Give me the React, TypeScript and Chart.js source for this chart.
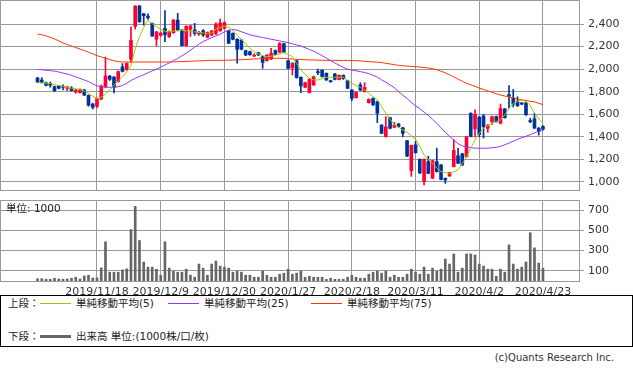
import React, { useEffect, useRef } from 'react';
import { Chart, registerables } from 'chart.js';

Chart.register(...registerables);

// ---- data (trading day index 0 = 2019/10/28 ... 119 = 2020/4/23) ----
const opens = [
  1922, 1904, 1880, 1874, 1845, 1850, 1847, 1830, 1833, 1797,
  1792, 1815, 1768, 1691, 1670, 1735, 1845, 1938, 1930, 1890,
  2020, 1995, 2087, 2380, 2560, 2490, 2470, 2406, 2265, 2300,
  2362, 2288, 2323, 2435, 2347, 2208, 2353, 2347, 2310, 2341,
  2282, 2302, 2317, 2340, 2362, 2341, 2317, 2264, 2258, 2164,
  2155, 2116, 2146, 2110, 2075, 2090, 2165, 2150, 2225, 2075,
  2010, 2075, 1928, 1839, 1792, 1860, 1978, 1990, 1963, 1898,
  1957, 1908, 1945, 1898, 1815, 1747, 1860, 1801, 1703, 1741,
  1712, 1505, 1402, 1570, 1485, 1514, 1480, 1366, 1100, 1330,
  1201, 1003, 1180, 1033, 1180, 1151, 1033, 1053, 1136, 1232,
  1250, 1225, 1609, 1470, 1575, 1585, 1475, 1535, 1580, 1520,
  1648, 1775, 1745, 1712, 1700, 1700, 1545, 1560, 1478, 1492,
];
const highs = [
  1928, 1925, 1886, 1886, 1850, 1856, 1860, 1850, 1845, 1821,
  1825, 1822, 1772, 1697, 1745, 1860, 2107, 1945, 1935, 1985,
  2050, 2056, 2376, 2562, 2565, 2495, 2490, 2410, 2335, 2330,
  2518, 2340, 2440, 2495, 2350, 2385, 2390, 2406, 2335, 2350,
  2330, 2345, 2410, 2444, 2420, 2345, 2322, 2270, 2262, 2168,
  2160, 2135, 2150, 2115, 2130, 2185, 2170, 2235, 2232, 2080,
  2058, 2080, 1932, 1885, 1915, 1938, 2000, 1995, 1968, 1902,
  1962, 1950, 1950, 1902, 1818, 1800, 1880, 1880, 1738, 1745,
  1716, 1508, 1579, 1575, 1530, 1520, 1485, 1370, 1328, 1358,
  1205, 1205, 1228, 1192, 1300, 1155, 1036, 1088, 1375, 1299,
  1255, 1405, 1614, 1640, 1580, 1600, 1510, 1585, 1585, 1690,
  1652, 1855, 1820, 1755, 1705, 1705, 1565, 1610, 1482, 1500,
];
const lows = [
  1882, 1878, 1852, 1840, 1800, 1826, 1815, 1810, 1805, 1786,
  1788, 1765, 1672, 1647, 1658, 1728, 1835, 1900, 1790, 1885,
  1975, 1990, 2060, 2356, 2415, 2390, 2440, 2290, 2208, 2290,
  2243, 2280, 2318, 2340, 2205, 2205, 2290, 2300, 2300, 2290,
  2278, 2298, 2305, 2335, 2355, 2225, 2258, 2052, 2170, 2120,
  2122, 2110, 2120, 2007, 2070, 2085, 2125, 2145, 2145, 2002,
  1948, 1920, 1792, 1835, 1788, 1855, 1950, 1930, 1900, 1884,
  1905, 1904, 1910, 1826, 1720, 1742, 1810, 1796, 1698, 1678,
  1526, 1428, 1398, 1470, 1480, 1485, 1400, 1225, 1050, 1255,
  1075, 974, 1072, 1030, 1088, 1018, 988, 1050, 1132, 1162,
  1146, 1220, 1400, 1400, 1400, 1390, 1440, 1510, 1530, 1515,
  1565, 1655, 1665, 1670, 1685, 1590, 1525, 1473, 1415, 1460,
];
const closes = [
  1886, 1883, 1857, 1857, 1809, 1830, 1840, 1842, 1810, 1815,
  1821, 1771, 1680, 1662, 1740, 1850, 1940, 1910, 1840, 1978,
  1980, 2050, 2255, 2560, 2420, 2474, 2455, 2294, 2330, 2320,
  2306, 2332, 2435, 2347, 2208, 2380, 2382, 2317, 2325, 2303,
  2326, 2338, 2400, 2408, 2412, 2229, 2264, 2176, 2176, 2125,
  2128, 2121, 2125, 2060, 2125, 2140, 2130, 2229, 2150, 2007,
  2052, 1925, 1851, 1880, 1910, 1933, 1969, 1935, 1904, 1888,
  1910, 1945, 1915, 1830, 1741, 1795, 1815, 1839, 1733, 1683,
  1609, 1431, 1488, 1476, 1505, 1490, 1431, 1230, 1325, 1260,
  1080, 1201, 1077, 1189, 1092, 1022, 1018, 1083, 1280, 1166,
  1151, 1400, 1405, 1600, 1420, 1490, 1500, 1579, 1535, 1650,
  1570, 1760, 1690, 1675, 1690, 1595, 1535, 1478, 1448, 1468,
];
const volumes = [
  23, 23, 17, 17, 27, 20, 17, 20, 27, 37,
  20, 50, 57, 30, 30, 130, 387, 87, 87, 87,
  110, 120, 507, 737, 400, 187, 137, 137, 117, 57,
  387, 127, 97, 87, 87, 117, 57, 37, 167, 127,
  57, 167, 197, 147, 137, 127, 87, 97, 87, 57,
  57, 37, 37, 97, 57, 37, 37, 67, 77, 117,
  67, 77, 100, 37, 47, 37, 37, 37, 17, 27,
  17, 17, 17, 37, 57, 37, 27, 27, 67, 87,
  97, 77, 97, 37, 57, 37, 37, 67, 117, 87,
  67, 137, 67, 127, 97, 117, 217, 167, 267, 87,
  127, 267, 267, 257, 167, 147, 117, 117, 47, 117,
  87, 357, 167, 117, 137, 187, 477, 327, 177, 127,
];
const ma5 = [
  1880, 1878, 1876, 1872, 1862, 1855, 1848, 1840, 1832, 1826,
  1820, 1805, 1785, 1760, 1738, 1750, 1780, 1815, 1860, 1895,
  1930, 1975, 2030, 2180, 2290, 2370, 2432, 2405, 2375, 2355,
  2335, 2330, 2338, 2340, 2345, 2340, 2335, 2330, 2325, 2320,
  2317, 2320, 2355, 2370, 2382, 2370, 2341, 2300, 2264, 2225,
  2184, 2155, 2134, 2120, 2111, 2115, 2125, 2135, 2146, 2130,
  2111, 2050, 1993, 1955, 1919, 1905, 1904, 1915, 1928, 1928,
  1928, 1928, 1928, 1900, 1874, 1855, 1839, 1815, 1786, 1755,
  1727, 1670, 1609, 1555, 1505, 1485, 1461, 1440, 1408, 1380,
  1313, 1240, 1200, 1166, 1125, 1092, 1083, 1077, 1090, 1107,
  1160, 1225, 1300, 1372, 1430, 1476, 1500, 1520, 1535, 1550,
  1594, 1650, 1697, 1712, 1727, 1712, 1680, 1609, 1560, 1520,
];
const ma25 = [
  1998, 1995, 1990, 1987, 1982, 1975, 1965, 1957, 1945, 1932,
  1918, 1904, 1890, 1870, 1852, 1845, 1840, 1839, 1839, 1845,
  1855, 1875, 1900, 1918, 1935, 1950, 1968, 1985, 2000, 2018,
  2037, 2055, 2075, 2095, 2118, 2142, 2168, 2195, 2222, 2245,
  2262, 2280, 2295, 2310, 2330, 2345, 2352, 2345, 2332, 2318,
  2305, 2295, 2288, 2280, 2273, 2265, 2258, 2250, 2243, 2235,
  2225, 2215, 2205, 2190, 2175, 2160, 2140, 2120, 2098, 2076,
  2055, 2035, 2015, 2000, 1992, 1985, 1978, 1970, 1960, 1945,
  1930, 1905, 1885, 1860, 1835, 1800, 1770, 1740, 1705, 1675,
  1650, 1620, 1590, 1555, 1520, 1480, 1440, 1405, 1370, 1340,
  1320, 1310, 1305, 1300, 1299, 1299, 1300, 1303, 1308, 1315,
  1330, 1345, 1362, 1378, 1392, 1405, 1420, 1435, 1450, 1462,
];
const ma75 = [
  2311, 2305, 2295, 2282, 2268, 2250, 2232, 2218, 2205, 2192,
  2178, 2165, 2150, 2135, 2120, 2108, 2097, 2085, 2074, 2067,
  2064, 2063, 2063, 2063, 2063, 2063, 2063, 2063, 2063, 2063,
  2063, 2064, 2065, 2066, 2067, 2068, 2070, 2072, 2074, 2075,
  2077, 2078, 2078, 2078, 2079, 2080, 2081, 2082, 2084, 2086,
  2088, 2090, 2092, 2094, 2095, 2096, 2096, 2096, 2095, 2093,
  2090, 2087, 2085, 2083, 2082, 2081, 2080, 2079, 2078, 2078,
  2078, 2077, 2077, 2077, 2076, 2075, 2073, 2070, 2067, 2064,
  2062, 2058, 2052, 2046, 2040, 2034, 2030, 2027, 2024, 2022,
  2018, 2015, 2010, 2005, 1995, 1982, 1968, 1950, 1932, 1912,
  1893, 1874, 1862, 1848, 1832, 1820, 1808, 1795, 1782, 1771,
  1762, 1754, 1745, 1735, 1728, 1722, 1715, 1710, 1698, 1685,
];
const gridIdx = [14, 29, 44, 59, 74, 89, 104, 119];
const gridLabels = [
  '2019/11/18', '2019/12/9', '2019/12/30', '2020/1/27',
  '2020/2/18', '2020/3/11', '2020/4/2', '2020/4/23',
];
const priceTicks = [1000, 1200, 1400, 1600, 1800, 2000, 2200, 2400];
const volumeTicks = [100, 200, 300, 400, 500, 600, 700];

const FONT = '"DejaVu Sans", "Noto Sans CJK JP", sans-serif';
const GRID = '#999999';
const RED = '#ff0033';
const BLUE = '#003399';
const X_MIN = -8.6;
const X_MAX = 127.48;

const framePlugin = {
  id: 'frame',
  beforeDatasetsDraw(chart: any) {
    const { ctx, chartArea } = chart;
    const l = Math.round(chartArea.left);
    const t = Math.round(chartArea.top);
    const r = Math.round(chartArea.right);
    const b = Math.round(chartArea.bottom);
    ctx.save();
    ctx.strokeStyle = GRID;
    ctx.lineWidth = 1;
    ctx.strokeRect(l - 0.5, t - 0.5, r - l + 1, b - t + 1);
    ctx.restore();
  },
};

const noPad = (s: any) => {
  s.paddingTop = 0;
  s.paddingBottom = 0;
  s.paddingLeft = 0;
  s.paddingRight = 0;
};

export default function App() {
  const priceRef = useRef<HTMLCanvasElement>(null);
  const volRef = useRef<HTMLCanvasElement>(null);

  useEffect(() => {
    document.body.style.margin = '0';
    Chart.defaults.font.family = FONT;
    const idx = opens.map((_, i) => i);
    const candleColors = idx.map((i) => (closes[i] >= opens[i] ? RED : BLUE));
    const line = (arr: number[], color: string) => ({
      type: 'line' as const,
      data: idx.map((i) => ({ x: i, y: arr[i] })),
      borderColor: color,
      borderWidth: 1,
      pointRadius: 0,
      tension: 0,
      fill: false,
      order: 0,
    });

    const price = new Chart(priceRef.current!, {
      type: 'bar',
      data: {
        datasets: [
          line(ma5, '#99cc00'),
          line(ma25, '#9933ff'),
          line(ma75, '#ff3300'),
          {
            type: 'bar',
            data: idx.map((i) => ({ x: i, y: [opens[i], closes[i]] })) as any,
            backgroundColor: candleColors,
            barThickness: 3,
            minBarLength: 1,
            grouped: false,
            borderWidth: 0,
            borderSkipped: false,
            order: 1,
          } as any,
          {
            type: 'bar',
            data: idx.map((i) => ({ x: i, y: [lows[i], highs[i]] })) as any,
            backgroundColor: candleColors,
            barThickness: 1,
            grouped: false,
            borderWidth: 0,
            borderSkipped: false,
            order: 2,
          } as any,
        ],
      },
      options: {
        animation: false,
        responsive: false,
        maintainAspectRatio: false,
        events: [],
        layout: { padding: { left: 1, top: 1, right: 0, bottom: 2 } },
        plugins: { legend: { display: false }, tooltip: { enabled: false } },
        scales: {
          x: {
            type: 'linear',
            min: X_MIN,
            max: X_MAX,
            offset: false,
            grid: { color: GRID, drawTicks: false, offset: false },
            border: { display: false },
            ticks: { display: false },
            afterBuildTicks: (s: any) => {
              s.ticks = gridIdx.map((v) => ({ value: v }));
            },
            afterFit: (s: any) => {
              s.height = 0;
              noPad(s);
            },
          },
          y: {
            position: 'right',
            min: 929,
            max: 2604,
            grid: { color: GRID, tickLength: 5 },
            border: { display: false },
            ticks: {
              color: '#333333',
              font: { family: FONT, size: 11 },
              padding: 4,
              callback: (v: any) => Number(v).toLocaleString('en-US'),
            },
            afterBuildTicks: (s: any) => {
              s.ticks = priceTicks.map((v) => ({ value: v }));
            },
            afterFit: (s: any) => {
              s.width = 54;
              noPad(s);
            },
          },
        },
      } as any,
      plugins: [framePlugin],
    });

    const vol = new Chart(volRef.current!, {
      type: 'bar',
      data: {
        datasets: [
          {
            data: idx.map((i) => ({ x: i, y: volumes[i] })) as any,
            backgroundColor: '#666666',
            barThickness: 2,
            borderWidth: 0,
            grouped: false,
          } as any,
        ],
      },
      options: {
        animation: false,
        responsive: false,
        maintainAspectRatio: false,
        events: [],
        layout: { padding: { left: 1, top: 5, right: 0, bottom: 0 } },
        plugins: { legend: { display: false }, tooltip: { enabled: false } },
        scales: {
          x: {
            type: 'linear',
            min: X_MIN,
            max: X_MAX,
            offset: false,
            grid: { color: GRID, drawTicks: false, offset: false },
            border: { display: false },
            ticks: {
              color: '#333333',
              font: { family: FONT, size: 11 },
              padding: 5,
              autoSkip: false,
              maxRotation: 0,
              minRotation: 0,
              callback: (v: any) => {
                const k = gridIdx.indexOf(Number(v));
                return k >= 0 ? gridLabels[k] : '';
              },
            },
            afterBuildTicks: (s: any) => {
              s.ticks = gridIdx.map((v) => ({ value: v }));
            },
            afterFit: (s: any) => {
              s.height = 15;
              noPad(s);
            },
          },
          y: {
            position: 'right',
            min: 0,
            max: 790,
            grid: { color: GRID, tickLength: 5 },
            border: { display: false },
            ticks: {
              color: '#333333',
              font: { family: FONT, size: 11 },
              padding: 4,
            },
            afterBuildTicks: (s: any) => {
              s.ticks = volumeTicks.map((v) => ({ value: v }));
            },
            afterFit: (s: any) => {
              s.width = 54;
              noPad(s);
            },
          },
        },
      } as any,
      plugins: [framePlugin],
    });

    return () => {
      price.destroy();
      vol.destroy();
    };
  }, []);

  const txt: React.CSSProperties = {
    position: 'absolute',
    fontFamily: FONT,
    fontSize: '10.5px',
    lineHeight: '13px',
    color: '#222222',
    whiteSpace: 'nowrap',
  };
  const bar = (left: number, top: number, color: string, h = 1): React.CSSProperties => ({
    position: 'absolute',
    left,
    top,
    width: 31,
    height: h,
    background: color,
  });

  return (
    <div
      style={{
        position: 'fixed',
        left: 0,
        top: 0,
        width: 633,
        height: 372,
        background: '#ffffff',
        overflow: 'hidden',
      }}
    >
      <canvas
        ref={priceRef}
        width={633}
        height={192}
        style={{ position: 'absolute', left: 0, top: 0, width: 633, height: 192 }}
      />
      <canvas
        ref={volRef}
        width={633}
        height={100}
        style={{ position: 'absolute', left: 0, top: 196, width: 633, height: 100 }}
      />
      <div style={{ ...txt, left: 6, top: 202 }}>単位: 1000</div>
      <div
        style={{
          position: 'absolute',
          left: 0,
          top: 295,
          width: 633,
          height: 52,
          boxSizing: 'border-box',
          border: '1px solid #000000',
          background: '#ffffff',
        }}
      />
      <div style={{ ...txt, left: 8, top: 297 }}>上段：</div>
      <div style={bar(40, 303, '#99cc00')} />
      <div style={{ ...txt, left: 76, top: 297 }}>単純移動平均(5)</div>
      <div style={bar(168, 303, '#9933ff')} />
      <div style={{ ...txt, left: 204, top: 297 }}>単純移動平均(25)</div>
      <div style={bar(311, 303, '#ff3300')} />
      <div style={{ ...txt, left: 347, top: 297 }}>単純移動平均(75)</div>
      <div style={{ ...txt, left: 8, top: 330 }}>下段：</div>
      <div style={bar(40, 335, '#666666', 3)} />
      <div style={{ ...txt, left: 76, top: 330 }}>出来高 単位:(1000株/口/枚)</div>
      <div style={{ ...txt, right: 19, top: 351, fontSize: '10px', color: '#333333' }}>
        (c)Quants Research Inc.
      </div>
    </div>
  );
}
